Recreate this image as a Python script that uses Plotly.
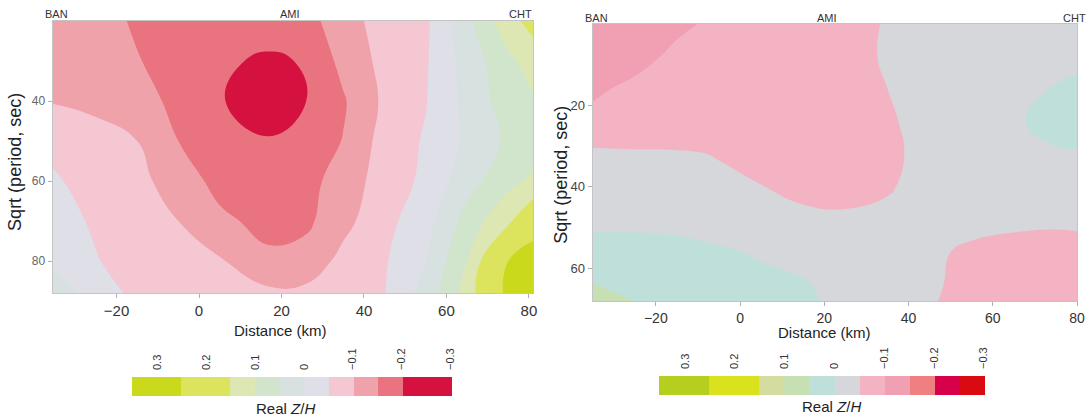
import numpy as np
import plotly.graph_objects as go

# ---------------- data ----------------
dist_left = [-35.5, -25, -15, -5, 5, 17, 26, 35, 45, 55, 65, 75, 81]
period_left = [20, 30, 40, 50, 60, 70, 80, 88]
zh_left = [
    [-0.125, -0.135, -0.155, -0.170, -0.180, -0.168, -0.172, -0.115, -0.085, -0.060, 0.040, 0.130, 0.170],
    [-0.115, -0.125, -0.148, -0.165, -0.190, -0.210, -0.195, -0.135, -0.085, -0.055, 0.020, 0.090, 0.120],
    [-0.103, -0.110, -0.135, -0.160, -0.192, -0.260, -0.200, -0.155, -0.090, -0.052, 0.015, 0.075, 0.095],
    [-0.060, -0.085, -0.100, -0.150, -0.170, -0.192, -0.180, -0.148, -0.080, -0.045, 0.010, 0.060, 0.070],
    [-0.045, -0.065, -0.085, -0.125, -0.165, -0.175, -0.165, -0.130, -0.075, -0.040, 0.030, 0.085, 0.110],
    [-0.035, -0.055, -0.070, -0.100, -0.140, -0.165, -0.160, -0.115, -0.065, -0.020, 0.070, 0.140, 0.200],
    [-0.020, -0.048, -0.065, -0.085, -0.095, -0.140, -0.130, -0.085, -0.055, 0.000, 0.100, 0.250, 0.300],
    [0.060, -0.040, -0.055, -0.070, -0.080, -0.090, -0.088, -0.070, -0.052, 0.020, 0.120, 0.270, 0.320],
]

dist_right = [-35, -25, -15, -5, 5, 15, 25, 35, 45, 55, 65, 75, 80]
period_right = [0, 8, 16, 24, 32, 40, 48, 56, 64, 68]
zh_right = [
    [-0.125, -0.115, -0.105, -0.095, -0.085, -0.075, -0.065, -0.047, -0.035, -0.030, -0.025, -0.020, -0.018],
    [-0.120, -0.108, -0.095, -0.088, -0.082, -0.075, -0.066, -0.045, -0.032, -0.025, -0.020, -0.012, -0.008],
    [-0.104, -0.095, -0.090, -0.085, -0.080, -0.075, -0.068, -0.050, -0.030, -0.020, -0.010, 0.002, 0.006],
    [-0.094, -0.090, -0.087, -0.083, -0.079, -0.075, -0.070, -0.057, -0.030, -0.018, -0.004, 0.010, 0.013],
    [-0.040, -0.043, -0.045, -0.052, -0.062, -0.068, -0.070, -0.060, -0.035, -0.020, -0.010, -0.003, -0.002],
    [-0.025, -0.030, -0.035, -0.042, -0.049, -0.062, -0.065, -0.055, -0.030, -0.022, -0.018, -0.015, -0.015],
    [-0.008, -0.010, -0.012, -0.020, -0.030, -0.040, -0.043, -0.038, -0.032, -0.035, -0.040, -0.042, -0.041],
    [0.012, 0.015, 0.012, 0.005, -0.004, -0.012, -0.022, -0.032, -0.042, -0.058, -0.065, -0.068, -0.066],
    [0.052, 0.040, 0.030, 0.020, 0.010, 0.003, -0.012, -0.030, -0.045, -0.060, -0.068, -0.070, -0.068],
    [0.065, 0.050, 0.035, 0.025, 0.015, 0.005, -0.008, -0.028, -0.047, -0.062, -0.070, -0.072, -0.070],
]

bar_ticks = [0.3, 0.2, 0.1, 0.0, -0.1, -0.2, -0.3]
bar_labels = ["0.3", "0.2", "0.1", "0", "\u22120.1", "\u22120.2", "\u22120.3"]
bar_range = [0.35, -0.3]
dist_ticks = [-20, 0, 20, 40, 60, 80]
period_ticks_left = [40, 60, 80]
period_ticks_right = [20, 40, 60]
stations = ["BAN", "AMI", "CHT"]
station_km_left = [-34.5, 22, 78]
station_km_right = [-34, 20.6, 79.5]

# band colours, from highest Z/H (left of bar) to lowest (right of bar)
colors_left = ["#cbd91c", "#dbe45c", "#dbe45c", "#dde7b4", "#d0e5cb", "#d7e1e0",
               "#dedfe7", "#f5c7d2", "#f0a2aa", "#e9737e", "#d5123f", "#d5123f"]
colors_right = ["#b6cf1f", "#d9e21d", "#d9e21d", "#d5dca0", "#c6e0b4", "#bfe0da",
                "#d5d7db", "#f4b3c3", "#f1a0b4", "#ef7f80", "#d6004b", "#da0a12"]

FONT = "Liberation Sans, Arial, sans-serif"
W, H = 1088, 419

# colour-bar geometry (pixels): left, right, top, bottom
BAR_L = (134, 454, 377, 396)
BAR_R = (665, 991, 376, 395)


def band_scale(colors):
    n = len(colors) - 1
    return [[i / n, c] for i, c in enumerate(colors)]


def cbar(box):
    x0, x1, y0, y1 = box
    return dict(
        orientation="h", x=(x0 + x1) / 2 / W, xanchor="center", y=(H - y1) / H, yanchor="bottom",
        len=x1 - x0, lenmode="pixels", thickness=y1 - y0, thicknessmode="pixels",
        showticklabels=False, ticks="", outlinewidth=0, xpad=0, ypad=0,
    )


fig = go.Figure()
fig.add_trace(go.Contour(
    x=dist_left, y=period_left, z=-np.array(zh_left), xaxis="x", yaxis="y",
    autocontour=False,
    contours=dict(start=-0.25, end=0.25, size=0.05, coloring="fill", showlines=False),
    line=dict(width=0, smoothing=1.3),
    colorscale=band_scale(colors_left), zmin=-bar_range[0], zmax=-bar_range[1],
    colorbar=cbar(BAR_L), hoverinfo="skip",
))
fig.add_trace(go.Contour(
    x=dist_right, y=period_right, z=-np.array(zh_right), xaxis="x2", yaxis="y2",
    autocontour=False,
    contours=dict(start=-0.25, end=0.25, size=0.05, coloring="fill", showlines=False),
    line=dict(width=0, smoothing=1.3),
    colorscale=band_scale(colors_right), zmin=-bar_range[0], zmax=-bar_range[1],
    colorbar=cbar(BAR_R), hoverinfo="skip",
))
# empty traces that carry the colour-bar label axes
fig.add_trace(go.Scatter(x=[], y=[], xaxis="x3", yaxis="y3", hoverinfo="skip"))
fig.add_trace(go.Scatter(x=[], y=[], xaxis="x4", yaxis="y4", hoverinfo="skip"))

axis_common = dict(showgrid=False, zeroline=False, showline=True, linecolor="#c4c4c4",
                   linewidth=1, mirror=True, ticks="outside", ticklen=4, tickcolor="#b0b0b0")


def bar_axes(box, yname):
    x0, x1, y0, y1 = box
    xa = dict(domain=[x0 / W, x1 / W], range=bar_range, tickvals=bar_ticks, ticktext=bar_labels,
              side="top", anchor=yname, tickangle=-90, showline=False, showgrid=False,
              zeroline=False, ticks="", ticklabelstandoff=6,
              tickfont=dict(size=11, color="#333"))
    ya = dict(domain=[(H - y1) / H, (H - y0) / H], range=[0, 1], visible=False)
    return xa, ya


xa3, ya3 = bar_axes(BAR_L, "y3")
xa4, ya4 = bar_axes(BAR_R, "y4")

fig.update_layout(
    width=W, height=H, margin=dict(l=0, r=0, t=0, b=0),
    paper_bgcolor="white", plot_bgcolor="rgba(0,0,0,0)", showlegend=False,
    font=dict(family=FONT, color="#222"),
    xaxis=dict(domain=[53 / W, 537 / W], range=[-35.5, 81], tickvals=dist_ticks,
               tickfont=dict(size=15, color="#333"), anchor="y", **axis_common),
    yaxis=dict(domain=[(H - 293) / H, (H - 21) / H], range=[88, 20], tickvals=period_ticks_left,
               tickfont=dict(size=12, color="#666"), anchor="x", **axis_common),
    xaxis2=dict(domain=[597 / W, 1085 / W], range=[-35, 80], tickvals=dist_ticks,
                tickfont=dict(size=14, color="#333"), anchor="y2", **axis_common),
    yaxis2=dict(domain=[(H - 301) / H, (H - 23.5) / H], range=[68, 0], tickvals=period_ticks_right,
                tickfont=dict(size=13, color="#444"), anchor="x2", **axis_common),
    xaxis3=xa3, yaxis3=ya3, xaxis4=xa4, yaxis4=ya4,
)

ann = []
for name, km in zip(stations, station_km_left):
    ann.append(dict(text=name, x=km, y=(H - 14) / H, xref="x", yref="paper", showarrow=False,
                    font=dict(size=11, color="#333"), xanchor="center", yanchor="middle"))
for name, km in zip(stations, station_km_right):
    ann.append(dict(text=name, x=km, y=(H - 18) / H, xref="x2", yref="paper", showarrow=False,
                    font=dict(size=11, color="#333"), xanchor="center", yanchor="middle"))
for xc, yc in [(283, 330), (831, 332)]:
    ann.append(dict(text="Distance (km)", x=xc / W, y=(H - yc) / H, xref="paper", yref="paper",
                    showarrow=False, font=dict(size=15, color="#222"), xanchor="center", yanchor="middle"))
for xc, yc in [(15, 162), (565, 175)]:
    ann.append(dict(text="Sqrt (period, sec)", x=xc / W, y=(H - yc) / H, xref="paper", yref="paper",
                    showarrow=False, textangle=-90, font=dict(size=18, color="#222"),
                    xanchor="center", yanchor="middle"))
for xc, yc in [(288, 408), (838, 406)]:
    ann.append(dict(text="Real <i>Z</i>/<i>H</i>", x=xc / W, y=(H - yc) / H, xref="paper", yref="paper",
                    showarrow=False, font=dict(size=15, color="#222"), xanchor="center", yanchor="middle"))
fig.update_layout(annotations=ann)

fig.write_html("out.html")
